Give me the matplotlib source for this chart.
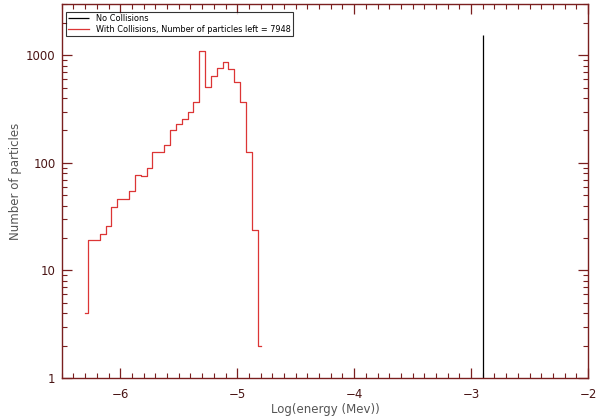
import matplotlib
matplotlib.use("Agg")
import matplotlib.pyplot as plt
import matplotlib.ticker as mticker
import numpy as np

# --- donnees ---
# histogramme avec collisions (centres des classes, pas de 0.05)
log_energy = [-6.30, -6.25, -6.20, -6.15, -6.10, -6.05, -6.00, -5.95, -5.90, -5.85,
              -5.80, -5.75, -5.70, -5.65, -5.60, -5.55, -5.50, -5.45, -5.40, -5.35,
              -5.30, -5.25, -5.20, -5.15, -5.10, -5.05, -5.00, -4.95, -4.90, -4.85,
              -4.80]
counts_coll = [4, 19, 19, 22, 26, 39, 46, 46, 55, 77,
               76, 89, 127, 127, 147, 201, 232, 257, 298, 366,
               1096, 512, 638, 757, 867, 752, 561, 371, 125, 24,
               2]
# sans collisions : tout dans une seule classe
no_coll_energy = [-2.90]
no_coll_count = [1530]

ytick_vals = [1, 10, 100, 1000]
ytick_labels = ["1", "10", "100", "1000"]
xtick_vals = [-6, -5, -4, -3, -2]
xtick_labels = ["\u22126", "\u22125", "\u22124", "\u22123", "\u22122"]

axis_col = "#7a1f1f"
text_col = "#4a1515"
label_col = "#555555"

plt.rcParams["font.family"] = ["DejaVu Sans"]

fig = plt.figure(figsize=(6, 4.2), dpi=100)
ax = fig.add_axes([0.103, 0.1, 0.877, 0.8905])

ax.vlines(no_coll_energy, 1, no_coll_count, color="black", lw=0.9,
          label="No Collisions")
ax.step(log_energy, counts_coll, where="mid", color="#dc3535", lw=0.9,
        label="With Collisions, Number of particles left = 7948")

ax.set_yscale("log")
ax.set_xlim(-6.5, -2)
ax.set_ylim(1, 3000)

ax.set_xticks(xtick_vals)
ax.set_xticklabels(xtick_labels)
ax.xaxis.set_minor_locator(mticker.MultipleLocator(0.1))
ax.set_yticks(ytick_vals)
ax.set_yticklabels(ytick_labels)
ax.yaxis.set_minor_locator(mticker.LogLocator(base=10, subs=np.arange(2, 10)))
ax.yaxis.set_minor_formatter(mticker.NullFormatter())

ax.tick_params(which="both", direction="in", top=True, right=True,
               color=axis_col, labelcolor=text_col, labelsize=8.5)
ax.tick_params(which="major", length=7, width=0.9)
ax.tick_params(which="minor", length=3.5, width=0.8)
ax.tick_params(axis="x", pad=7)
ax.tick_params(axis="y", pad=4.5)
for sp in ax.spines.values():
    sp.set_color(axis_col)
    sp.set_linewidth(1.0)

ax.set_xlabel("Log(energy (Mev))", color=label_col, fontsize=8.5)
ax.set_ylabel("Number of particles", color=label_col, fontsize=8.5)
ax.xaxis.set_label_coords(0.5, -0.068)
ax.yaxis.set_label_coords(-0.076, 0.525)

leg = ax.legend(loc="upper left", bbox_to_anchor=(0.008, 0.979), fontsize=5.9,
                frameon=True, fancybox=False, handlelength=2.5, handletextpad=0.8,
                borderpad=0.3, labelspacing=0.15, borderaxespad=0)
leg.get_frame().set_edgecolor("black")
leg.get_frame().set_linewidth(0.8)

fig.savefig("out.png", dpi=100)
